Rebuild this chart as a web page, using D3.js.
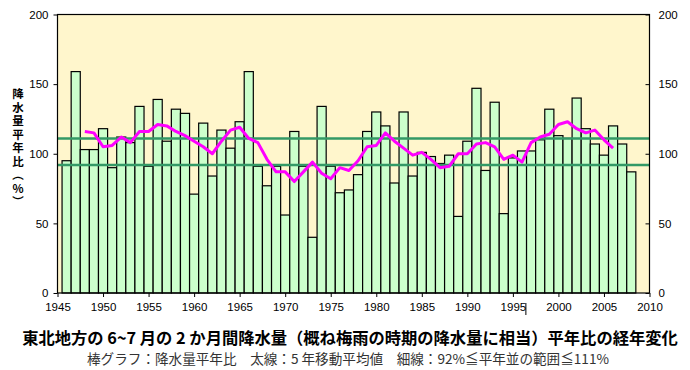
<!DOCTYPE html>
<html>
<head>
<meta charset="utf-8">
<script src="https://cdn.jsdelivr.net/npm/d3@7"></script>
<style>
body { margin: 0; background: #fff; }
text { font-family: "Liberation Sans", Arial, sans-serif; }
.jp { font-family: "Noto Sans CJK JP", sans-serif; }
</style>
</head>
<body>
<div id="chart"></div>
<script>
// 東北地方 6~7月 降水量平年比
var years = d3.range(1946, 2009);
var ratio = [95, 159, 103, 103, 118, 90, 112, 108, 134, 91,
             139, 109, 132, 129, 71, 122, 84, 117, 104, 123,
             159, 91, 77, 91, 56, 116, 91, 40, 134, 91,
             72, 74, 85, 116, 130, 120, 79, 130, 84, 101,
             98, 93, 99, 55, 109, 147, 88, 137, 57, 97,
             102, 102, 110, 132, 113, 111, 140, 118, 107, 99,
             120, 107, 87];
// 5年移動平均 (1948-2006)
var maYears = d3.range(1948, 2007);
var ma = [116, 115, 105, 106, 112, 108, 116, 116, 121, 120,
          116, 113, 109, 105, 100, 109, 117, 119, 111, 108,
          96, 87, 87, 80, 87, 94, 86, 82, 90, 88,
          95, 105, 106, 115, 109, 104, 99, 101, 96, 90,
          91, 100, 100, 107, 108, 105, 96, 99, 94, 108,
          112, 114, 121, 123, 118, 115, 117, 110, 104];
var normalRange = [92, 111];
var xTicks = d3.range(1945, 2011, 5);
var yTicks = [0, 50, 100, 150, 200];
var yLabel = "降水量平年比（%）";
var title = "東北地方の 6~7 月の 2 か月間降水量（概ね梅雨の時期の降水量に相当）平年比の経年変化";
var subtitle = "棒グラフ：降水量平年比　太線：5 年移動平均値　細線：92%≦平年並の範囲≦111%";

var svgWidth = 690;
var svgHeight = 370;
var margin = {top: 14.5, right: 40.5, bottom: 77, left: 57.5};
var chartWidth = svgWidth - margin.left - margin.right;
var chartHeight = svgHeight - margin.top - margin.bottom;

var svg = d3.select("#chart")
    .append("svg")
    .attr("width", svgWidth)
    .attr("height", svgHeight);

var chartGroup = svg.append("g")
    .attr("transform", `translate(${margin.left}, ${margin.top})`);

var x = d3.scaleLinear().domain([1945, 2010]).range([0, chartWidth]);
var y = d3.scaleLinear().domain([0, 200]).range([chartHeight, 0]);
var bw = x(1946) - x(1945);

chartGroup.append("rect")
    .attr("width", chartWidth)
    .attr("height", chartHeight)
    .attr("fill", "#fff6cc");

chartGroup.selectAll(".bar")
    .data(years)
    .enter()
    .append("rect")
    .attr("class", "bar")
    .attr("x", (d) => x(d) - bw / 2)
    .attr("y", (d, i) => y(ratio[i]))
    .attr("width", bw)
    .attr("height", (d, i) => chartHeight - y(ratio[i]))
    .attr("fill", "#ccffcc")
    .attr("stroke", "#000")
    .attr("stroke-width", 1.2);

chartGroup.selectAll(".nline")
    .data(normalRange)
    .enter()
    .append("line")
    .attr("x1", 0)
    .attr("x2", chartWidth)
    .attr("y1", (d) => y(d))
    .attr("y2", (d) => y(d))
    .attr("stroke", "#339966")
    .attr("stroke-width", 2.5);

var line = d3.line()
    .x((d, i) => x(maYears[i]))
    .y((d) => y(d));

chartGroup.append("path")
    .datum(ma)
    .attr("d", line)
    .attr("fill", "none")
    .attr("stroke", "#ff00ff")
    .attr("stroke-width", 3)
    .attr("stroke-linejoin", "round");

chartGroup.append("rect")
    .attr("width", chartWidth)
    .attr("height", chartHeight)
    .attr("fill", "none")
    .attr("stroke", "#000")
    .attr("stroke-width", 1.2);

var bottomAxis = d3.axisBottom(x).tickValues(xTicks).tickFormat(d3.format("d")).tickSize(4).tickSizeOuter(0);
var leftAxis = d3.axisLeft(y).tickValues(yTicks).tickSize(4).tickSizeOuter(0);
var rightAxis = d3.axisLeft(y).tickValues(yTicks).tickSize(4).tickSizeOuter(0);

var gx = chartGroup.append("g")
    .attr("transform", `translate(0, ${chartHeight})`)
    .call(bottomAxis);
var gl = chartGroup.append("g").call(leftAxis);
var gr = chartGroup.append("g")
    .attr("transform", `translate(${chartWidth}, 0)`)
    .call(rightAxis);

[gx, gl, gr].forEach(function(g) {
    g.select(".domain").remove();
    g.selectAll("line").attr("stroke", "#000");
    g.selectAll("text")
        .attr("fill", "#000")
        .style("font-size", "11.5px")
        .style("font-family", "'Liberation Sans', Arial, sans-serif");
});
gx.selectAll("text").attr("dy", "0.95em").attr("y", 7);
gl.selectAll("text").attr("x", -9);
gr.selectAll("text").attr("text-anchor", "start").attr("x", 9);

// stray mark beside 1995 in the original
chartGroup.append("line")
    .attr("x1", x(1995) + 13).attr("x2", x(1995) + 13)
    .attr("y1", chartHeight + 10).attr("y2", chartHeight + 22)
    .attr("stroke", "#000")
    .attr("stroke-width", 1);

// vertical y-axis label
svg.append("text")
    .attr("class", "jp")
    .attr("x", 18)
    .attr("y", 88)
    .style("writing-mode", "vertical-rl")
    .style("text-orientation", "upright")
    .style("font-size", "11.5px")
    .style("font-weight", "bold")
    .style("letter-spacing", "2px")
    .text(yLabel);

svg.append("text")
    .attr("class", "jp")
    .attr("x", 350)
    .attr("y", 338)
    .attr("dy", "0.35em")
    .attr("text-anchor", "middle")
    .style("font-size", "16.3px")
    .style("font-weight", "bold")
    .text(title);

svg.append("text")
    .attr("class", "jp")
    .attr("x", 348)
    .attr("y", 359.5)
    .attr("dy", "0.35em")
    .attr("text-anchor", "middle")
    .style("font-size", "13.6px")
    .attr("fill", "#333")
    .text(subtitle);
</script>
</body>
</html>
